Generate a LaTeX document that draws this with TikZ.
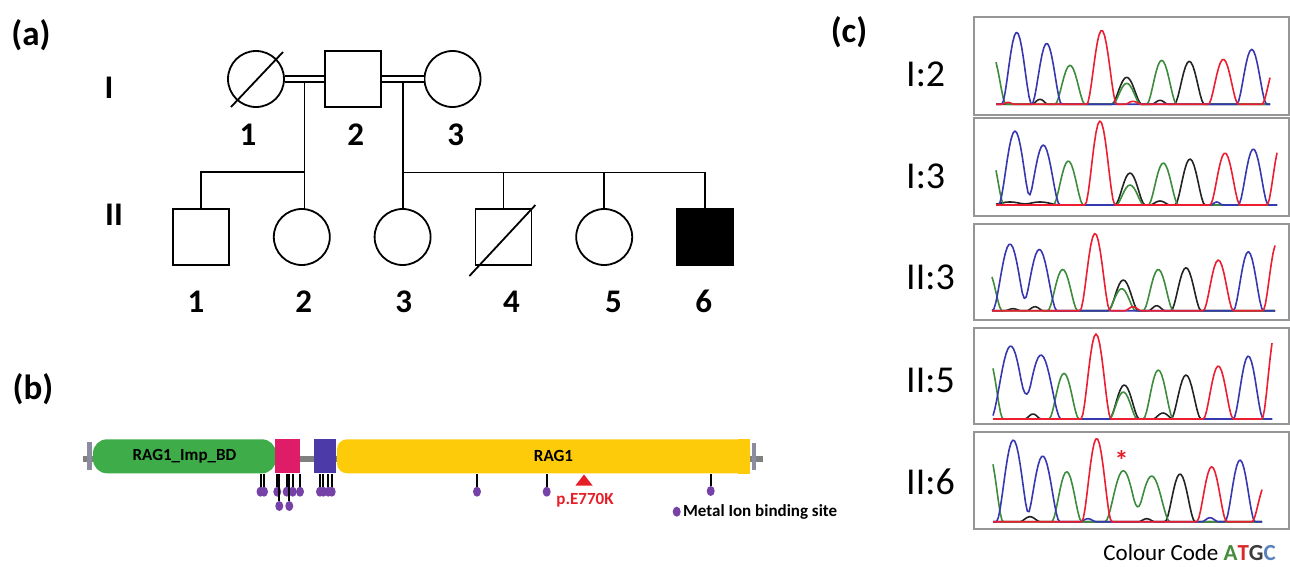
\documentclass[tikz,border=0pt]{standalone}
\usepackage{fontspec}
\setmainfont{Carlito}
\usetikzlibrary{shapes.geometric}

\definecolor{impgreen}{RGB}{62,173,73}
\definecolor{zfpink}{RGB}{222,28,104}
\definecolor{zfblue}{RGB}{76,58,168}
\definecolor{ragyellow}{RGB}{254,203,10}
\definecolor{metalpurple}{RGB}{118,66,168}
\definecolor{mutred}{RGB}{230,30,40}
\definecolor{tickgray}{RGB}{140,140,160}
\definecolor{boxgray}{RGB}{150,150,150}
\definecolor{tblue}{RGB}{55,55,175}
\definecolor{tgreen}{RGB}{60,140,60}
\definecolor{tred}{RGB}{235,30,50}
\definecolor{tblack}{RGB}{35,35,35}
\definecolor{codeA}{RGB}{70,140,60}
\definecolor{codeT}{RGB}{220,40,40}
\definecolor{codeG}{RGB}{60,60,60}
\definecolor{codeC}{RGB}{90,130,190}

\tikzstyle{male}=[rectangle,draw,line width=1.8pt,minimum size=56pt,inner sep=0pt]
\tikzstyle{female}=[circle,draw,line width=1.8pt,minimum size=56pt,inner sep=0pt]
\tikzstyle{affected}=[male,fill=black]
\tikzstyle{link}=[line width=1.8pt]
\tikzstyle{marriage}=[line width=1.6pt,double,double distance=4.4pt]
\tikzstyle{num}=[font=\fontsize{33pt}{36pt}\selectfont\bfseries]
\tikzstyle{panel}=[font=\fontsize{35pt}{38pt}\selectfont\bfseries]
\tikzstyle{dom}=[rectangle,minimum height=34pt,inner sep=0pt,font=\fontsize{17pt}{20pt}\selectfont\bfseries]
\tikzstyle{backbone}=[line width=6pt,gray]
\tikzstyle{metal}=[ellipse,fill=metalpurple,minimum width=8pt,minimum height=10pt,inner sep=0pt]
\tikzstyle{stick}=[line width=2pt]
\tikzstyle{mutlbl}=[text=mutred,font=\fontsize{17pt}{20pt}\selectfont\bfseries]
\tikzstyle{keytext}=[inner sep=0pt,font=\fontsize{17pt}{20pt}\selectfont\bfseries]
\tikzstyle{chrom}=[draw=boxgray,line width=2pt]
\tikzstyle{sample}=[anchor=west,inner sep=0pt,font=\fontsize{38pt}{42pt}\selectfont]
\tikzstyle{trace}=[line width=1.6pt,line join=round]

% one trace of a chromatogram: colour, baseline, domain, peaks c/h/w
\newcommand{\peaks}[4]{%
  \gdef\pksum{0}%
  \foreach \pc/\ph/\pw in {#4}{%
    \xdef\pksum{\unexpanded\expandafter{\pksum}+\ph*bw((\noexpand\x-\pc)/\pw)}}%
  \draw[trace,#1] plot[domain=#3,samples=150] (\x,{#2-(\pksum)});%
}

\begin{document}
\begin{tikzpicture}[x=1pt,y=-1pt,declare function={bw(\t)=max(0,1-(\t)*(\t))*max(0,1-(\t)*(\t));}]
	\useasboundingbox (0,0) rectangle (1290,567);

	% (a) pedigree
	\node[panel] (a) at (31,35) {(a)};
	\node[num] (genI) at (109,87.5) {I};
	\node[num] (genII) at (114,215) {II};

	\node[female] (I1) at (256,79) {};
	\node[male,right of=I1,node distance=97pt] (I2) {};
	\node[female,right of=I2,node distance=99.5pt] (I3) {};
	\draw[link] ([shift={(-25,28)}]I1.center) -- ([shift={(27,-27)}]I1.center);

	\node[male] (II1) at (201,237) {};
	\node[female,right of=II1,node distance=100.8pt] (II2) {};
	\node[female,right of=II2,node distance=100.8pt] (II3) {};
	\node[male,right of=II3,node distance=100.8pt] (II4) {};
	\node[female,right of=II4,node distance=100.8pt] (II5) {};
	\node[affected,right of=II5,node distance=100.8pt] (II6) {};
	\draw[link] ([shift={(-34,39)}]II4.center) -- ([shift={(32,-32)}]II4.center);

	\path (I1) -- coordinate[midway] (m1) (I2);
	\path (I2) -- coordinate[midway] (m2) (I3);
	\coordinate (s1) at (m1 |- 0,172);
	\coordinate (s2) at (m2 |- 0,172.5);
	\draw[link] (m1) -- (m1 |- II2.north);
	\draw[link] (m2) -- (m2 |- II3.north);
	\draw[link] (II1.north) |- (s1);
	\draw[link] (II6.north) |- (s2);
	\draw[link] (II4.north) -- (II4 |- s2);
	\draw[link] (II5.north) -- (II5 |- s2);
	\draw[marriage] (I1) -- (I2);
	\draw[marriage] (I2) -- (I3);

	\node[num] (nI1) at (248,134.5) {1};
	\node[num] (nI2) at (355.8,134.5) {2};
	\node[num] (nI3) at (455.8,134.5) {3};
	\node[num] (nII1) at (196,301.7) {1};
	\node[num] (nII2) at (303.8,301.7) {2};
	\node[num] (nII3) at (403.8,301.7) {3};
	\node[num] (nII4) at (511.5,301.7) {4};
	\node[num] (nII5) at (613.5,301.7) {5};
	\node[num] (nII6) at (703.8,301.7) {6};

	% (b) protein domains
	\node[panel] (b) at (33,389) {(b)};
	\draw[backbone] (83,459) -- (763,459);
	\fill[tickgray] (87.3,442) rectangle (91.7,470);
	\fill[tickgray] (752,443) rectangle (755.7,470);
	\node[dom,fill=impgreen,rounded corners=14pt,minimum width=183pt] (imp) at (184.5,456.3) {RAG1\_Imp\_BD};
	\node[dom,fill=zfpink,minimum width=25pt,right of=imp,node distance=103pt] (zf1) {};
	\node[dom,fill=zfblue,minimum width=22pt,right of=zf1,node distance=37.5pt] (zf2) {};
	\node[dom,fill=ragyellow,rounded corners=10pt,minimum width=413pt] (rag) at (543.5,456.3) {};
	\fill[ragyellow] ([xshift=-12pt]rag.north east) rectangle (rag.south east);
	\node[dom,right of=rag,node distance=10pt] (ragtxt) {RAG1};

	\foreach \px/\py [count=\i] in {260.5/491.7,264/491.7,277.3/491.7,279.3/506,286.7/491.7,289.3/506,292.7/491.7,300/491.7,320/491.7,323.3/491.7,328.3/491.7,331.7/491.7,477/491.7,546.7/491.7,710.7/491}
		\node[metal] (pin\i) at (\px,\py) {};
	\foreach \i in {1,...,15}
		\draw[stick] (pin\i.north) -- (pin\i |- rag.south);

	\fill[mutred] (584,474.5) -- (592.5,485.5) -- (575.5,485.5) -- cycle;
	\node[mutlbl] (mut) at (585,500) {p.E770K};
	\node[metal] (key) at (676.7,511.7) {};
	\node[keytext,anchor=west] (keylbl) at ([xshift=2pt]key.east) {Metal Ion binding site};

	% (c) chromatograms
	\node[panel] (c) at (849,32.5) {(c)};
	\draw[chrom] (974.3,17.3) rectangle (1288.5,115);
	\draw[chrom] (974.3,118.3) rectangle (1288.5,216);
	\draw[chrom] (974.3,224) rectangle (1288.5,320);
	\draw[chrom] (974.3,328.3) rectangle (1288.5,424);
	\draw[chrom] (974.3,431.7) rectangle (1288.5,529.3);
	\node[sample] (sI2) at (906,74) {I:2};
	\node[sample] (sI3) at (906,176) {I:3};
	\node[sample] (sII3) at (906,277.3) {II:3};
	\node[sample] (sII5) at (906,380) {II:5};
	\node[sample] (sII6) at (906,481.7) {II:6};

	% I:2
	\peaks{tblack}{104.3}{996:1270}{1040/5/8,1126.7/27/15,1160/4/8,1189.3/43/15}
	\peaks{tgreen}{104.3}{996:1270}{992/50/14,1070/39/15,1126.7/21/14,1161.7/44/15}
	\peaks{tblue}{104.3}{996:1270}{1016.7/72/15,1046.7/61/15,1251.7/55/15}
	\peaks{tred}{104.3}{996:1270}{1008/2/6,1101.7/74/15,1133/3/8,1223.3/45/15,1276/40/14}
	% I:3
	\peaks{tblack}{205}{996:1277}{1010/3/20,1040/3/20,1130/32/15,1160/4/10,1190/46/15}
	\peaks{tgreen}{205}{996:1277}{990/52/14,1068.3/44/15,1130/20/14,1163.3/42/15}
	\peaks{tblue}{205}{996:1277}{1015/74/16.6,1043.3/60/16.6,1216.7/3/6,1253.3/56/15}
	\peaks{tred}{205}{996:1277}{1100/84/15,1225/52/15,1281/62/14}
	% II:3
	\peaks{tblack}{310.7}{992:1275}{1013/2/8,1035/4/8,1123.3/30.7/15,1156.7/5/8,1186/43/15}
	\peaks{tgreen}{310.7}{992:1275}{988/40/14,1062.7/41.3/15,1121.7/22/14,1158.3/41.3/15}
	\peaks{tblue}{310.7}{992:1275}{1010/66.7/17.6,1039.3/61.3/17.6,1248.3/59/15}
	\peaks{tred}{310.7}{992:1275}{1095/77.3/15,1133/4/8,1218.3/50.7/15,1277/68/14}
	% II:5
	\peaks{tblack}{419}{993:1272}{1033/5/8,1124.3/34/15,1163/6/10,1186/44/15}
	\peaks{tgreen}{419}{993:1272}{989/60/14,1064/45.7/15,1123.3/27/14,1158.3/49/15}
	\peaks{tblue}{419}{993:1272}{1010.7/73/20,1041/64/20,1248.3/63/15}
	\peaks{tred}{419}{993:1272}{1096/85/15,1218.3/53/15,1276/90/14}
	% II:6
	\peaks{tblack}{521.7}{993:1262}{1030/5/10,1146.7/3/8,1180/47.7/15}
	\peaks{tgreen}{521.7}{993:1262}{989/68/14,1066.7/50/15,1123.3/51/18.2,1151.7/45.7/18.2}
	\peaks{tblue}{521.7}{993:1262}{1013.3/81.7/17,1042.7/65.7/17,1088/3/8,1210/4/8,1240/61.7/15}
	\peaks{tred}{521.7}{993:1262}{1096.7/83.3/15,1211.7/55/15,1266/38/14}
	\node[text=mutred,font=\fontsize{28pt}{30pt}\selectfont\bfseries] (star) at (1121.7,460) {*};

	\node[anchor=east,inner sep=0pt,font=\fontsize{23pt}{26pt}\selectfont] (code) at (1276,553) {Colour Code \textbf{\textcolor{codeA}{A}\textcolor{codeT}{T}\textcolor{codeG}{G}\textcolor{codeC}{C}}};
	% \draw[->] (sII6) -- (star);
\end{tikzpicture}
\end{document}
